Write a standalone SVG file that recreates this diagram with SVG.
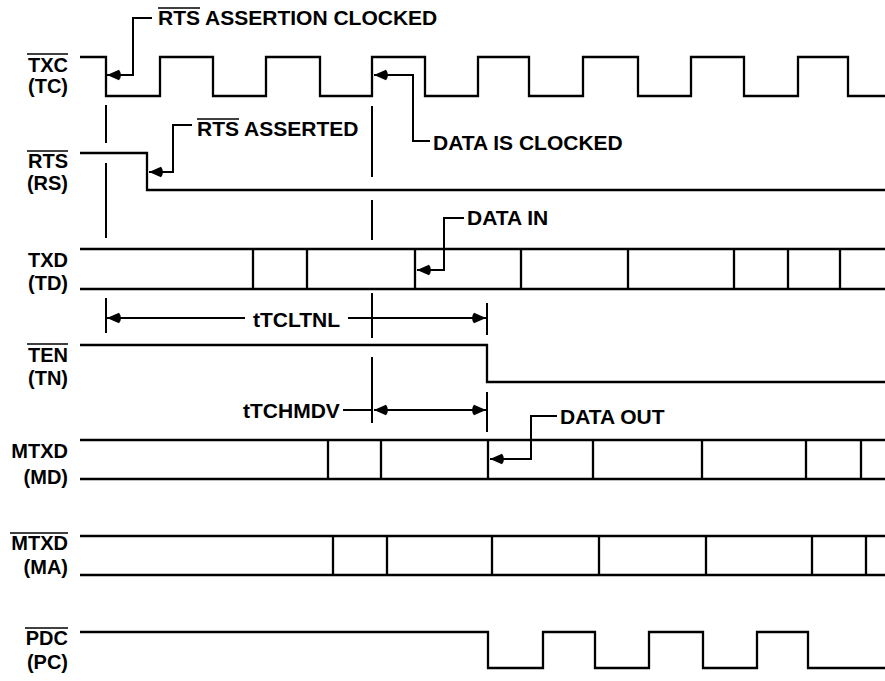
<svg xmlns="http://www.w3.org/2000/svg" width="885" height="681" viewBox="0 0 885 681">
<defs>
<style>
.sig{fill:none;stroke:#000;stroke-width:2.3;stroke-linejoin:miter}
.con{fill:none;stroke:#000;stroke-width:2}
.lbl{font-family:"Liberation Sans",Arial,sans-serif;font-weight:bold;font-size:20px;fill:#000;text-anchor:end}
.ann{font-family:"Liberation Sans",Arial,sans-serif;font-weight:bold;font-size:21px;fill:#000}
.ov{stroke:#000;stroke-width:1.6}
</style>
<marker id="ah" viewBox="0 0 16 12" refX="16" refY="6" markerWidth="16" markerHeight="12" markerUnits="userSpaceOnUse" orient="auto">
<path d="M16,6 L4,0.8 Q0,6 4,11.2 Z" fill="#000"/>
</marker>
</defs>
<rect width="885" height="681" fill="#fff"/>

<g id="TXC">
<text class="lbl" x="68" y="72">TXC</text><line class="ov" x1="27" y1="54" x2="68" y2="54"/>
<text class="lbl" x="68" y="93">(TC)</text>
<path class="sig" d="M80,57 H106 V96 H160 V57 H213 V96 H266 V57 H320 V96 H372 V57 H425 V96 H478 V57 H529 V96 H583 V57 H638 V96 H691 V57 H744 V96 H798 V57 H848 V96 H885"/>
</g>

<g id="RTS">
<text class="lbl" x="68" y="168">RTS</text><line class="ov" x1="27" y1="151" x2="68" y2="151"/>
<text class="lbl" x="68" y="190">(RS)</text>
<path class="sig" d="M80,153 H147 V190 H885"/>
</g>

<g id="TXD">
<text class="lbl" x="68" y="267">TXD</text>
<text class="lbl" x="68" y="290">(TD)</text>
<path class="sig" d="M80,249 H885 M80,289 H885 M253,249 V289 M307,249 V289 M415,249 V289 M521,249 V289 M628,249 V289 M734,249 V289 M788,249 V289 M840,249 V289"/>
</g>

<g id="TEN">
<text class="lbl" x="68" y="362">TEN</text><line class="ov" x1="27" y1="344" x2="68" y2="344"/>
<text class="lbl" x="68" y="385">(TN)</text>
<path class="sig" d="M80,345 H487 V382 H885"/>
</g>

<g id="MTXD">
<text class="lbl" x="68" y="458">MTXD</text>
<text class="lbl" x="68" y="484">(MD)</text>
<path class="sig" d="M80,440 H885 M80,479 H885 M328,440 V479 M381,440 V479 M488,440 V479 M593,440 V479 M702,440 V479 M806,440 V479 M861,440 V479"/>
</g>

<g id="MTXDN">
<text class="lbl" x="68" y="550">MTXD</text><line class="ov" x1="10" y1="533" x2="68" y2="533"/>
<text class="lbl" x="68" y="574">(MA)</text>
<path class="sig" d="M80,536 H885 M80,575 H885 M333,536 V575 M387,536 V575 M492,536 V575 M599,536 V575 M706,536 V575 M812,536 V575 M866,536 V575"/>
</g>

<g id="PDC">
<text class="lbl" x="68" y="645">PDC</text><line class="ov" x1="25" y1="628" x2="68" y2="628"/>
<text class="lbl" x="68" y="669">(PC)</text>
<path class="sig" d="M80,632 H488 V668 H543 V632 H595 V668 H649 V632 H703 V668 H757 V632 H808 V668 H885"/>
</g>

<g id="annotations">
<text class="ann" x="158" y="25">RTS ASSERTION CLOCKED</text><line class="ov" x1="158" y1="8" x2="200" y2="8"/>
<text class="ann" x="197" y="136">RTS ASSERTED</text><line class="ov" x1="197" y1="119" x2="239" y2="119"/>
<text class="ann" x="433" y="150">DATA IS CLOCKED</text>
<text class="ann" x="467" y="225">DATA IN</text>
<text class="ann" x="560" y="424">DATA OUT</text>
<text class="ann" x="253" y="327">tTCLTNL</text>
<text class="ann" x="243" y="418">tTCHMDV</text>
</g>

<g id="connectors">
<path class="con" d="M152,18 H133 V75 H107" marker-end="url(#ah)"/>
<path class="con" d="M192,125 H173 V172 H149" marker-end="url(#ah)"/>
<path class="con" d="M430,141 H413 V75 H374" marker-end="url(#ah)"/>
<path class="con" d="M464,218 H444 V270 H417" marker-end="url(#ah)"/>
<path class="con" d="M557,416 H531 V459 H490" marker-end="url(#ah)"/>
<path class="con" d="M245,318 H107" marker-end="url(#ah)"/>
<path class="con" d="M348,318 H486" marker-end="url(#ah)"/>
<path class="con" d="M343,410 H372"/>
<path class="con" d="M420,410 H374" marker-end="url(#ah)"/>
<path class="con" d="M420,410 H486" marker-end="url(#ah)"/>
<path class="con" d="M106,105 V143 M106,163 V238 M106,298 V333"/>
<path class="con" d="M372,106 V177 M372,200 V240 M372,293 V338 M372,357 V423"/>
<path class="con" d="M487,303 V335 M487,392 V432"/>
</g>
</svg>
